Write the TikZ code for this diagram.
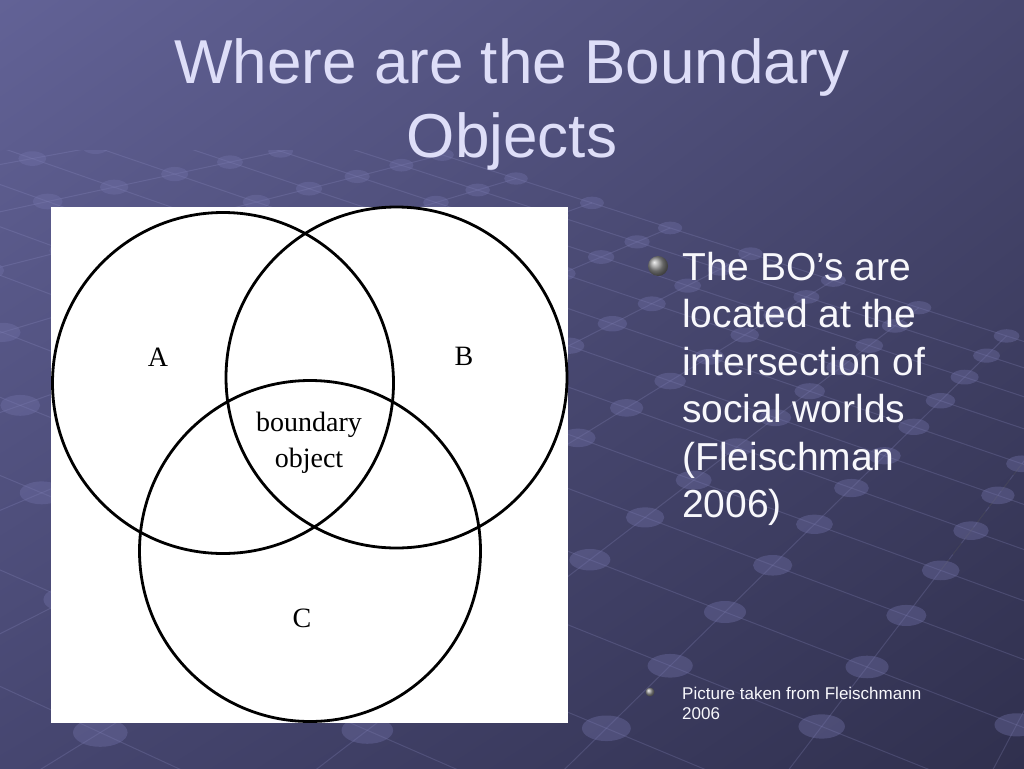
\documentclass[tikz,border=0pt]{standalone}
\usepackage{fontspec}
\usetikzlibrary{shadings}
\setmainfont{Liberation Sans}
\newfontfamily\venfont{Liberation Serif}
\definecolor{bgUL}{RGB}{98,98,150}
\definecolor{bgUR}{RGB}{72,72,112}
\definecolor{bgLL}{RGB}{70,70,112}
\definecolor{bgLR}{RGB}{48,48,78}
\definecolor{gridline}{RGB}{150,150,205}
\definecolor{gridnode}{RGB}{115,115,170}
\definecolor{titlecol}{RGB}{222,222,248}
\definecolor{textcol}{RGB}{248,248,252}
\newcommand\gridpt[2]{%
  \pgfmathsetmacro\gw{1-0.025*(#1)+0.07*(#2)}%
  \pgfmathsetmacro\gx{725+((#1)*138.5+(#2)*51)/\gw}%
  \pgfmathsetmacro\gy{612+((#1)*53.6-(#2)*50)/\gw}}
\tikzset{
  gline/.style={draw=gridline, line width=1pt, opacity=0.22},
  gdark/.style={draw=black!80, line width=1.1pt, opacity=0.4, dash pattern=on 14pt off 6pt},
  gnode/.style={fill=gridnode, opacity=0.38},
  titletext/.style={text=titlecol, inner sep=0, anchor=base, font=\fontsize{62}{74}\selectfont},
  bodytext/.style={text=textcol, inner sep=0, anchor=base west, font=\fontsize{39}{47}\selectfont},
  smalltext/.style={text=textcol, inner sep=0, anchor=base west, font=\fontsize{17}{20}\selectfont},
  venncircle/.style={draw=black, line width=2.8pt},
  vennlabel/.style={text=black, inner sep=0, anchor=base, font=\venfont\fontsize{28}{34}\selectfont},
  ballbullet/.style={ball color=gray!85}
}
\begin{document}
\begin{tikzpicture}[x=1pt,y=-1pt]
\useasboundingbox (0,0) rectangle (1024,768);
% background
\shade[upper left=bgUL, upper right=bgUR, lower left=bgLL, lower right=bgLR] (0,0) rectangle (1024,768);
% perspective grid
\begin{scope}
\clip (0,150) rectangle (1024,768);
\foreach \j in {-5,...,9}{
  \gridpt{-10}{\j}\edef\ax{\gx}\edef\ay{\gy}
  \gridpt{3}{\j}
  \draw[gline] (\ax,\ay) -- (\gx,\gy);
}
\foreach \i in {-10,...,3}{
  \gridpt{\i}{-5}\edef\ax{\gx}\edef\ay{\gy}
  \gridpt{\i}{9}
  \draw[gline] (\ax,\ay) -- (\gx,\gy);
}
\gridpt{1}{2}\edef\ax{\gx}\edef\ay{\gy}
\gridpt{1}{9}
\draw[gdark] (\ax,\ay) -- (\gx,\gy);
\foreach \i in {-10,...,3}{
  \foreach \j in {-5,...,9}{
    \gridpt{\i}{\j}
    \pgfmathsetmacro\grx{21/\gw}
    \pgfmathsetmacro\gry{11/\gw}
    \fill[gnode] (\gx,\gy) ellipse [x radius=\grx pt, y radius=\gry pt];
  }
}
\end{scope}
% title
\node[titletext] (title1) at (512,83) {Where are the Boundary};
\node[titletext] (title2) at (512,157) {Objects};
% picture
\fill[white] (51,207) rectangle (568,723);
\draw[venncircle] (223,383) circle (170.5);
\draw[venncircle] (396.5,377.5) circle (170.5);
\draw[venncircle] (310,551) circle (170.5);
\node[vennlabel] (labA) at (158,366) {A};
\node[vennlabel] (labB) at (464,365) {B};
\node[vennlabel] (labbo1) at (309,431) {boundary};
\node[vennlabel] (labbo2) at (309,467) {object};
\node[vennlabel] (labC) at (302,627) {C};
% bullets
\shade[ballbullet] (658,266) circle (10);
\shade[ballbullet] (650,692) circle (4.5);
\node[bodytext] (b1) at (682,280) {The BO’s are};
\node[bodytext] (b2) at (682,327.5) {located at the};
\node[bodytext] (b3) at (682,375) {intersection of};
\node[bodytext] (b4) at (682,422.5) {social worlds};
\node[bodytext] (b5) at (682,470) {(Fleischman};
\node[bodytext] (b6) at (682,517.5) {2006)};
\node[smalltext] (s1) at (682,699) {Picture taken from Fleischmann};
\node[smalltext] (s2) at (682,719) {2006};
\end{tikzpicture}
\end{document}
